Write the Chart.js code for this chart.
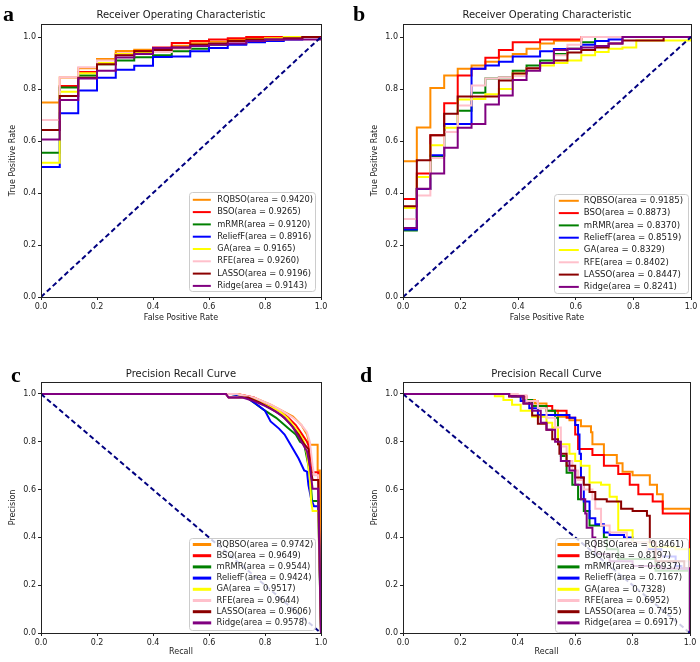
<!DOCTYPE html>
<html>
<head>
<meta charset="utf-8">
<script src="https://cdn.jsdelivr.net/npm/chart.js@4.4.1/dist/chart.umd.min.js"></script>
<style>
  html, body { margin:0; padding:0; background:#fff; }
  #wrap { position:relative; width:700px; height:662px; overflow:hidden; background:#fff; }
  #wrap canvas { position:absolute; }
  .tag { position:absolute; font:bold 22px "Liberation Serif", "DejaVu Serif", serif; line-height:22px; color:#000; }
</style>
</head>
<body>
<div id="wrap">
  <canvas id="rocA" width="350" height="328" style="left:0;top:0"></canvas>
  <canvas id="rocB" width="350" height="328" style="left:350px;top:0"></canvas>
  <canvas id="prC" width="350" height="332" style="left:0;top:330px"></canvas>
  <canvas id="prD" width="350" height="332" style="left:350px;top:330px"></canvas>
  <div class="tag" style="left:3px;top:3px">a</div>
  <div class="tag" style="left:353px;top:3px">b</div>
  <div class="tag" style="left:11px;top:364px">c</div>
  <div class="tag" style="left:360px;top:364px">d</div>
</div>
<script>
const methods = ['RQBSO', 'BSO', 'mRMR', 'ReliefF', 'GA', 'RFE', 'LASSO', 'Ridge'];
const colors = ['#ff8c00', '#ff0000', '#008000', '#0000ff', '#ffff00', '#ffc0cb', '#8b0000', '#800080'];
const tickVals = [0, 0.2, 0.4, 0.6, 0.8, 1.0];

// a: ROC curves (FPR grid, TPR level per step)
const aAreas = [0.9420, 0.9265, 0.9120, 0.8916, 0.9165, 0.9260, 0.9196, 0.9143];
const aFpr = [0, 0, 0.067, 0.133, 0.2, 0.267, 0.333, 0.4, 0.467, 0.533, 0.6, 0.667, 0.733, 0.8, 0.867, 0.933, 1];
const aRQBSO = [0, 0.748, 0.844, 0.880, 0.915, 0.946, 0.951, 0.956, 0.966, 0.976, 0.982, 0.988, 0.992, 0.995, 0.997, 1, 1];
const aBSO = [0, 0.642, 0.812, 0.865, 0.900, 0.936, 0.946, 0.960, 0.977, 0.985, 0.990, 0.995, 1, 1, 1, 1, 1];
const amRMR = [0, 0.555, 0.806, 0.852, 0.895, 0.910, 0.922, 0.930, 0.945, 0.955, 0.970, 0.975, 0.985, 0.990, 0.995, 1, 1];
const aReliefF = [0, 0.500, 0.707, 0.794, 0.843, 0.874, 0.889, 0.923, 0.925, 0.945, 0.958, 0.970, 0.980, 0.985, 0.990, 1, 1];
const aGA = [0, 0.516, 0.789, 0.861, 0.900, 0.935, 0.940, 0.950, 0.958, 0.968, 0.975, 0.985, 0.990, 0.995, 1, 1, 1];
const aRFE = [0, 0.681, 0.845, 0.884, 0.910, 0.930, 0.935, 0.942, 0.955, 0.965, 0.975, 0.980, 0.985, 0.990, 0.995, 1, 1];
const aLASSO = [0, 0.642, 0.773, 0.843, 0.895, 0.930, 0.945, 0.950, 0.960, 0.970, 0.975, 0.985, 0.990, 0.990, 0.995, 1, 1];
const aRidge = [0, 0.606, 0.758, 0.840, 0.870, 0.921, 0.935, 0.958, 0.960, 0.965, 0.970, 0.975, 0.985, 0.990, 0.990, 0.990, 1];

// b: ROC curves, second data set
const bAreas = [0.9185, 0.8873, 0.8370, 0.8519, 0.8329, 0.8402, 0.8447, 0.8241];
const bFpr = [0, 0, 0.048, 0.095, 0.143, 0.19, 0.238, 0.286, 0.333, 0.381, 0.429, 0.476, 0.524, 0.571, 0.619, 0.667, 0.714, 0.762, 0.81, 0.857, 0.905, 0.952, 1];
const bRQBSO = [0, 0.522, 0.652, 0.804, 0.852, 0.878, 0.890, 0.905, 0.925, 0.935, 0.955, 0.975, 0.986, 0.986, 1, 1, 1, 1, 1, 1, 1, 1, 1];
const bBSO = [0, 0.377, 0.475, 0.622, 0.745, 0.852, 0.878, 0.920, 0.950, 0.980, 0.980, 0.990, 0.990, 0.990, 1, 1, 1, 1, 1, 1, 1, 1, 1];
const bmRMR = [0, 0.256, 0.415, 0.542, 0.665, 0.716, 0.786, 0.840, 0.845, 0.870, 0.890, 0.910, 0.935, 0.955, 0.980, 1, 1, 1, 1, 1, 1, 1, 1];
const bReliefF = [0, 0.260, 0.415, 0.545, 0.665, 0.665, 0.878, 0.890, 0.905, 0.925, 0.925, 0.945, 0.954, 0.954, 0.970, 0.985, 0.990, 1, 1, 1, 1, 1, 1];
const bGA = [0, 0.342, 0.462, 0.584, 0.651, 0.760, 0.762, 0.780, 0.800, 0.860, 0.880, 0.890, 0.900, 0.910, 0.930, 0.942, 0.955, 0.960, 0.987, 0.987, 0.987, 0.987, 1];
const bRFE = [0, 0.300, 0.390, 0.535, 0.635, 0.737, 0.813, 0.840, 0.845, 0.850, 0.880, 0.900, 0.930, 0.970, 1, 1, 1, 1, 1, 1, 1, 1, 1];
const bLASSO = [0, 0.349, 0.526, 0.622, 0.705, 0.771, 0.771, 0.771, 0.833, 0.860, 0.880, 0.900, 0.910, 0.940, 0.950, 0.960, 0.975, 0.987, 0.987, 0.987, 1, 1, 1];
const bRidge = [0, 0.265, 0.416, 0.475, 0.574, 0.651, 0.665, 0.740, 0.775, 0.835, 0.870, 0.900, 0.950, 0.955, 0.960, 0.965, 0.975, 1, 1, 1, 1, 1, 1];

// c: precision-recall, first data set [recall, precision]
const cAreas = [0.9742, 0.9649, 0.9544, 0.9424, 0.9517, 0.9644, 0.9606, 0.9578];
const cRQBSO = [[0, 1], [0.70, 1], [0.76, 0.985], [0.82, 0.955], [0.86, 0.93], [0.90, 0.905], [0.93, 0.87], [0.95, 0.83], [0.96, 0.787], [0.988, 0.787], [0.988, 0.68], [0.996, 0.68], [1, 0]];
const cBSO = [[0, 1], [0.70, 1], [0.76, 0.985], [0.80, 0.96], [0.85, 0.93], [0.88, 0.905], [0.91, 0.87], [0.93, 0.835], [0.95, 0.80], [0.96, 0.77], [0.965, 0.72], [0.97, 0.672], [0.99, 0.672], [1, 0]];
const cmRMR = [[0, 1], [0.68, 1], [0.73, 0.99], [0.80, 0.93], [0.84, 0.90], [0.88, 0.86], [0.91, 0.83], [0.925, 0.80], [0.94, 0.79], [0.945, 0.76], [0.955, 0.70], [0.965, 0.60], [0.968, 0.552], [0.99, 0.552], [1, 0]];
const cReliefF = [[0, 1], [0.68, 1], [0.73, 0.99], [0.76, 0.965], [0.80, 0.93], [0.82, 0.885], [0.85, 0.855], [0.87, 0.83], [0.895, 0.78], [0.92, 0.73], [0.94, 0.68], [0.95, 0.675], [0.955, 0.62], [0.965, 0.56], [0.975, 0.53], [0.99, 0.53], [1, 0]];
const cGA = [[0, 1], [0.70, 1], [0.76, 0.98], [0.80, 0.955], [0.85, 0.93], [0.88, 0.90], [0.90, 0.87], [0.92, 0.84], [0.94, 0.80], [0.95, 0.75], [0.96, 0.65], [0.965, 0.55], [0.97, 0.51], [0.99, 0.51], [1, 0]];
const cRFE = [[0, 1], [0.70, 1], [0.76, 0.985], [0.82, 0.955], [0.86, 0.93], [0.90, 0.90], [0.93, 0.87], [0.95, 0.84], [0.96, 0.80], [0.97, 0.70], [0.975, 0.66], [0.99, 0.66], [1, 0]];
const cLASSO = [[0, 1], [0.66, 1], [0.67, 0.985], [0.74, 0.985], [0.78, 0.965], [0.82, 0.94], [0.86, 0.91], [0.89, 0.875], [0.92, 0.83], [0.94, 0.79], [0.955, 0.77], [0.96, 0.70], [0.97, 0.64], [0.99, 0.64], [1, 0]];
const cRidge = [[0, 1], [0.66, 1], [0.67, 0.985], [0.72, 0.985], [0.76, 0.97], [0.80, 0.95], [0.84, 0.925], [0.87, 0.90], [0.90, 0.86], [0.92, 0.82], [0.94, 0.78], [0.95, 0.76], [0.96, 0.70], [0.965, 0.65], [0.97, 0.603], [0.99, 0.603], [1, 0]];

// d: precision-recall, second data set (step points)
const dAreas = [0.8461, 0.8197, 0.6937, 0.7167, 0.7328, 0.6952, 0.7455, 0.6917];
const dRQBSO = [[0, 1], [0.37, 0.99], [0.42, 0.975], [0.46, 0.96], [0.50, 0.93], [0.54, 0.905], [0.58, 0.89], [0.62, 0.865], [0.655, 0.84], [0.66, 0.79], [0.70, 0.745], [0.745, 0.71], [0.765, 0.675], [0.80, 0.66], [0.86, 0.62], [0.885, 0.58], [0.905, 0.52], [1, 0.52], [1, 0]];
const dBSO = [[0, 1], [0.37, 0.99], [0.43, 0.97], [0.47, 0.95], [0.52, 0.93], [0.57, 0.90], [0.60, 0.83], [0.61, 0.77], [0.66, 0.745], [0.70, 0.70], [0.75, 0.665], [0.79, 0.62], [0.82, 0.58], [0.87, 0.55], [0.905, 0.50], [1, 0.50], [1, 0]];
const dmRMR = [[0, 1], [0.38, 0.99], [0.42, 0.975], [0.45, 0.95], [0.50, 0.93], [0.53, 0.90], [0.54, 0.80], [0.55, 0.74], [0.57, 0.67], [0.59, 0.62], [0.61, 0.56], [0.63, 0.51], [0.65, 0.45], [0.70, 0.40], [0.71, 0.35], [0.75, 0.31], [0.88, 0.26], [1, 0.26], [1, 0]];
const dReliefF = [[0, 1], [0.38, 0.99], [0.41, 0.97], [0.44, 0.94], [0.47, 0.912], [0.58, 0.90], [0.60, 0.87], [0.61, 0.83], [0.615, 0.75], [0.62, 0.65], [0.63, 0.55], [0.65, 0.48], [0.67, 0.455], [0.70, 0.42], [0.72, 0.41], [0.77, 0.40], [0.80, 0.38], [0.85, 0.35], [0.90, 0.32], [0.95, 0.28], [0.97, 0.27], [1, 0.27], [1, 0]];
const dGA = [[0, 1], [0.32, 0.99], [0.35, 0.975], [0.38, 0.955], [0.41, 0.93], [0.45, 0.905], [0.50, 0.88], [0.52, 0.86], [0.54, 0.79], [0.58, 0.75], [0.60, 0.72], [0.62, 0.70], [0.65, 0.63], [0.69, 0.62], [0.72, 0.57], [0.745, 0.55], [0.75, 0.43], [0.80, 0.38], [0.86, 0.36], [0.95, 0.35], [1, 0.35], [1, 0]];
const dRFE = [[0, 1], [0.40, 0.995], [0.43, 0.97], [0.47, 0.94], [0.50, 0.90], [0.53, 0.86], [0.55, 0.78], [0.57, 0.72], [0.59, 0.68], [0.61, 0.64], [0.63, 0.60], [0.66, 0.56], [0.67, 0.52], [0.69, 0.45], [0.72, 0.42], [0.78, 0.38], [0.85, 0.34], [0.90, 0.30], [1, 0.30], [1, 0]];
const dLASSO = [[0, 1], [0.37, 0.99], [0.42, 0.96], [0.45, 0.91], [0.47, 0.875], [0.50, 0.85], [0.52, 0.81], [0.54, 0.79], [0.545, 0.75], [0.57, 0.70], [0.60, 0.65], [0.63, 0.62], [0.65, 0.59], [0.67, 0.56], [0.71, 0.55], [0.76, 0.52], [0.80, 0.51], [0.85, 0.49], [0.86, 0.38], [0.88, 0.30], [0.98, 0.27], [1, 0.27], [1, 0]];
const dRidge = [[0, 1], [0.37, 0.99], [0.42, 0.96], [0.45, 0.93], [0.48, 0.88], [0.50, 0.85], [0.53, 0.80], [0.55, 0.72], [0.58, 0.68], [0.60, 0.62], [0.62, 0.56], [0.635, 0.50], [0.64, 0.44], [0.66, 0.40], [0.67, 0.33], [0.72, 0.30], [0.80, 0.28], [0.90, 0.27], [1, 0.27], [1, 0]];

const rocDiag = [[0, 0], [1, 1]];
const prDiag = [[0, 1], [1, 0]];

const font = '"DejaVu Sans", Verdana, sans-serif';
const ink = '#1a1a1a';

const rocSeries = (fpr, tpr) => fpr.map((x, i) => ({x, y: tpr[i]}));
const pairSeries = pairs => pairs.map(([x, y]) => ({x, y}));

// frame around the plot area + matplotlib-like legend box in the lower right
const frameLegend = {
  id: 'frameLegend',
  afterDatasetsDraw(chart, args, o) {
    const {ctx, chartArea: ca} = chart;
    ctx.save();
    ctx.strokeStyle = '#222';
    ctx.lineWidth = 1;
    ctx.strokeRect(Math.round(ca.left) + 0.5, Math.round(ca.top) + 0.5, Math.round(ca.right - ca.left), Math.round(ca.bottom - ca.top));

    const right = ca.right - o.gapRight, bottom = ca.bottom - o.gapBottom;
    const left = Math.round(right - o.width) + 0.5, top = Math.round(bottom - o.height) + 0.5;
    const w = o.width, h = o.height, r = 3;
    ctx.beginPath();
    ctx.moveTo(left + r, top);
    ctx.lineTo(left + w - r, top); ctx.quadraticCurveTo(left + w, top, left + w, top + r);
    ctx.lineTo(left + w, top + h - r); ctx.quadraticCurveTo(left + w, top + h, left + w - r, top + h);
    ctx.lineTo(left + r, top + h); ctx.quadraticCurveTo(left, top + h, left, top + h - r);
    ctx.lineTo(left, top + r); ctx.quadraticCurveTo(left, top, left + r, top);
    ctx.closePath();
    ctx.fillStyle = 'rgba(255,255,255,0.8)';
    ctx.fill();
    ctx.strokeStyle = '#cccccc';
    ctx.stroke();

    ctx.font = o.fontSize + 'px ' + font;
    ctx.textBaseline = 'middle';
    ctx.textAlign = 'left';
    chart.data.datasets.filter(d => d.label).forEach((d, i) => {
      const y = top + o.firstRow + i * o.rowStep;
      ctx.strokeStyle = d.borderColor;
      ctx.lineWidth = o.sampleWidth;
      ctx.beginPath();
      ctx.moveTo(left + o.sampleX, y);
      ctx.lineTo(left + o.sampleX + o.sampleLen, y);
      ctx.stroke();
      ctx.fillStyle = ink;
      ctx.fillText(d.label, left + o.textX, y);
    });
    ctx.restore();
  }
};

function axis(title, size, titlePad, fit) {
  return {
    type: 'linear', min: 0, max: size,
    afterFit: fit,
    afterBuildTicks: s => { s.ticks = tickVals.map(v => ({value: v})); },
    ticks: { color: ink, font: {family: font, size: 8}, padding: 2, maxRotation: 0, autoSkip: false, callback: v => v.toFixed(1) },
    grid: { drawOnChartArea: false, drawTicks: true, tickLength: 3, color: '#222', lineWidth: 1 },
    border: { display: false },
    title: { display: true, text: title, color: ink, font: {family: font, size: 8}, padding: titlePad }
  };
}

function makePanel(id, p) {
  const datasets = p.series.map((data, i) => ({
    label: methods[i] + '(area = ' + p.areas[i].toFixed(4) + ')',
    data,
    borderColor: colors[i],
    backgroundColor: colors[i],
    borderWidth: 2,
    pointRadius: 0,
    stepped: p.stepped,
    fill: false,
    order: 7 - i
  }));
  datasets.push({
    label: '', data: pairSeries(p.diag), borderColor: '#000080', backgroundColor: '#000080',
    borderWidth: 2, borderDash: [5, 3], pointRadius: 0, fill: false, order: -1
  });
  return new Chart(document.getElementById(id), {
    type: 'line',
    data: {datasets},
    options: {
      responsive: false, animation: false, devicePixelRatio: 1, events: [],
      layout: { padding: {left: 0, top: 0, bottom: 0, right: p.padRight} },
      plugins: {
        legend: {display: false},
        tooltip: {enabled: false},
        title: { display: true, text: p.title, fullSize: false, color: ink,
                 font: {family: font, size: 10, weight: 'normal'},
                 padding: {top: p.titleTop, bottom: p.titleBottom} },
        frameLegend: p.legend
      },
      scales: {
        x: axis(p.xTitle, 1, {top: 0, bottom: 5}, s => { s.height = p.xH; }),
        y: axis(p.yTitle, 1.05, {top: p.yTitlePad, bottom: 0}, s => { s.width = p.yW; })
      }
    },
    plugins: [frameLegend]
  });
}

makePanel('rocA', {
  title: 'Receiver Operating Characteristic', xTitle: 'False Positive Rate', yTitle: 'True Positive Rate',
  areas: aAreas, stepped: 'before', diag: rocDiag,
  series: [aRQBSO, aBSO, amRMR, aReliefF, aGA, aRFE, aLASSO, aRidge].map(t => rocSeries(aFpr, t)),
  yW: 41, xH: 31, padRight: 29, titleTop: 9, titleBottom: 3, yTitlePad: 8,
  legend: {gapRight: 6, gapBottom: 6, width: 126, height: 99, firstRow: 7.3, rowStep: 12.3, sampleX: 3.3, sampleLen: 18, sampleWidth: 2, textX: 27.7, fontSize: 8.3}
});

makePanel('rocB', {
  title: 'Receiver Operating Characteristic', xTitle: 'False Positive Rate', yTitle: 'True Positive Rate',
  areas: bAreas, stepped: 'before', diag: rocDiag,
  series: [bRQBSO, bBSO, bmRMR, bReliefF, bGA, bRFE, bLASSO, bRidge].map(t => rocSeries(bFpr, t)),
  yW: 53, xH: 31, padRight: 9, titleTop: 9, titleBottom: 3, yTitlePad: 20,
  legend: {gapRight: 3, gapBottom: 4, width: 134, height: 99, firstRow: 6.3, rowStep: 12.3, sampleX: 4.3, sampleLen: 20, sampleWidth: 2, textX: 29.3, fontSize: 8.6}
});

makePanel('prC', {
  title: 'Precision Recall Curve', xTitle: 'Recall', yTitle: 'Precision',
  areas: cAreas, stepped: false, diag: prDiag,
  series: [cRQBSO, cBSO, cmRMR, cReliefF, cGA, cRFE, cLASSO, cRidge].map(pairSeries),
  yW: 41, xH: 29, padRight: 29, titleTop: 38, titleBottom: 2, yTitlePad: 8,
  legend: {gapRight: 6, gapBottom: 3, width: 126, height: 92, firstRow: 6, rowStep: 11.2, sampleX: 3.3, sampleLen: 18.4, sampleWidth: 3, textX: 27, fontSize: 8.4}
});

makePanel('prD', {
  title: 'Precision Recall Curve', xTitle: 'Recall', yTitle: 'Precision',
  areas: dAreas, stepped: 'before', diag: prDiag,
  series: [dRQBSO, dBSO, dmRMR, dReliefF, dGA, dRFE, dLASSO, dRidge].map(pairSeries),
  yW: 53, xH: 29, padRight: 10, titleTop: 38, titleBottom: 2, yTitlePad: 20,
  legend: {gapRight: 2, gapBottom: 1, width: 133, height: 94, firstRow: 6, rowStep: 11.2, sampleX: 2, sampleLen: 22, sampleWidth: 3, textX: 29, fontSize: 8.6}
});
</script>
</body>
</html>
